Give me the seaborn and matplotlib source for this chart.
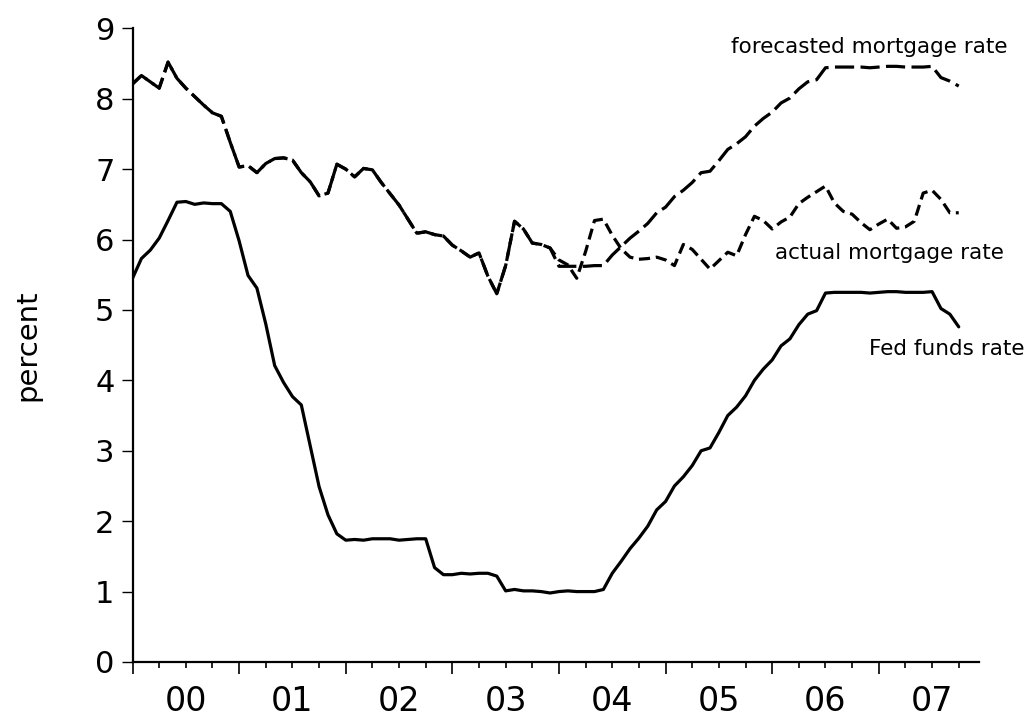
import numpy as np
import pandas as pd
import matplotlib
matplotlib.use("Agg")
import matplotlib.pyplot as plt
from matplotlib.ticker import FixedLocator, FuncFormatter
import seaborn as sns

# monthly observations 2000M1 .. 2007M10
months = pd.period_range("2000-01", "2007-10", freq="M")

fed_funds = [
    5.45, 5.73, 5.85, 6.02, 6.27, 6.53, 6.54, 6.50, 6.52, 6.51, 6.51, 6.40,
    5.98, 5.49, 5.31, 4.80, 4.21, 3.97, 3.77, 3.65, 3.07, 2.49, 2.09, 1.82,
    1.73, 1.74, 1.73, 1.75, 1.75, 1.75, 1.73, 1.74, 1.75, 1.75, 1.34, 1.24,
    1.24, 1.26, 1.25, 1.26, 1.26, 1.22, 1.01, 1.03, 1.01, 1.01, 1.00, 0.98,
    1.00, 1.01, 1.00, 1.00, 1.00, 1.03, 1.26, 1.43, 1.61, 1.76, 1.93, 2.16,
    2.28, 2.50, 2.63, 2.79, 3.00, 3.04, 3.26, 3.50, 3.62, 3.78, 4.00, 4.16,
    4.29, 4.49, 4.59, 4.79, 4.94, 4.99, 5.24, 5.25, 5.25, 5.25, 5.25, 5.24,
    5.25, 5.26, 5.26, 5.25, 5.25, 5.25, 5.26, 5.02, 4.94, 4.76,
]

actual_mortgage = [
    8.21, 8.33, 8.24, 8.15, 8.52, 8.29, 8.15, 8.03, 7.91, 7.80, 7.75, 7.38,
    7.03, 7.05, 6.95, 7.08, 7.15, 7.16, 7.13, 6.95, 6.82, 6.62, 6.66, 7.07,
    7.00, 6.89, 7.01, 6.99, 6.81, 6.65, 6.49, 6.29, 6.09, 6.11, 6.07, 6.05,
    5.92, 5.84, 5.75, 5.81, 5.48, 5.23, 5.63, 6.26, 6.15, 5.95, 5.93, 5.88,
    5.71, 5.64, 5.45, 5.83, 6.27, 6.29, 6.06, 5.87, 5.75, 5.72, 5.73, 5.75,
    5.71, 5.63, 5.93, 5.86, 5.72, 5.58, 5.70, 5.82, 5.77, 6.07, 6.33, 6.27,
    6.15, 6.25, 6.32, 6.51, 6.60, 6.68, 6.76, 6.52, 6.40, 6.36, 6.24, 6.14,
    6.22, 6.29, 6.16, 6.18, 6.26, 6.66, 6.70, 6.57, 6.38, 6.38,
]

# forecast coincides with the actual rate through 2003M12, then 2004M1 onward:
forecast_from_2004 = [
    5.62, 5.62, 5.62, 5.62, 5.63, 5.63, 5.78, 5.90, 6.02, 6.12, 6.23, 6.38,
    6.46, 6.61, 6.70, 6.81, 6.95, 6.97, 7.12, 7.28, 7.36, 7.46, 7.61, 7.72,
    7.81, 7.94, 8.01, 8.14, 8.24, 8.27, 8.44, 8.45, 8.45, 8.45, 8.45, 8.44,
    8.45, 8.46, 8.46, 8.45, 8.45, 8.45, 8.46, 8.30, 8.25, 8.18,
]
forecast_mortgage = actual_mortgage[:48] + forecast_from_2004

year_labels = ["00", "01", "02", "03", "04", "05", "06", "07"]

# fractional year for each month
t = months.year + (months.month - 1) / 12.0

df = pd.concat([
    pd.DataFrame({"t": t, "rate": forecast_mortgage, "series": "forecasted"}),
    pd.DataFrame({"t": t, "rate": actual_mortgage, "series": "actual"}),
    pd.DataFrame({"t": t, "rate": fed_funds, "series": "fed"}),
], ignore_index=True)

sns.set_style("ticks")
plt.rcParams["font.family"] = ["DejaVu Sans"]
plt.rcParams["text.color"] = "black"
plt.rcParams["axes.labelcolor"] = "black"
plt.rcParams["xtick.color"] = "black"
plt.rcParams["ytick.color"] = "black"

fig = plt.figure(figsize=(10.29, 7.19), dpi=100)
ax = fig.add_axes([0.1288, 0.0793, 0.8226, 0.8813])

sns.lineplot(
    data=df, x="t", y="rate",
    style="series",
    style_order=["forecasted", "actual", "fed"],
    dashes={"forecasted": (6, 2), "actual": (3.5, 1.8), "fed": ""},
    color="black", linewidth=2.3,
    estimator=None, sort=False, legend=False, ax=ax,
)

ax.set_xlim(2000, 2007.94)
ax.set_ylim(0, 9)

for side in ["top", "right"]:
    ax.spines[side].set_visible(False)
for side in ["left", "bottom"]:
    ax.spines[side].set_linewidth(1.6)
    ax.spines[side].set_color("black")

# year boundaries (long ticks), quarters (short ticks), labels at mid-year
first_year = int(months.year.min())
n_years = len(year_labels)
ax.set_xticks([first_year + k for k in range(n_years)])
ax.set_xticklabels([])
ax.xaxis.set_minor_locator(FixedLocator(
    [first_year + k + q for k in range(n_years) for q in (0.25, 0.5, 0.75)]))


def mid_year_label(x, pos):
    k = x - first_year - 0.5
    if abs(k - round(k)) < 1e-6 and 0 <= round(k) < n_years:
        return year_labels[int(round(k))]
    return ""


ax.xaxis.set_minor_formatter(FuncFormatter(mid_year_label))
ax.tick_params(axis="x", which="major", direction="out", length=8.6, width=1.2)
ax.tick_params(axis="x", which="minor", direction="out", length=4.3, width=1.2,
               pad=12, labelsize=24)

ax.set_yticks(range(10))
ax.tick_params(axis="y", direction="out", length=8, width=1.0, pad=5,
               labelsize=22)

ax.set_xlabel("")
ax.set_ylabel("percent", fontsize=21)
ax.yaxis.set_label_coords(-0.1073, 0.5)

ax.text(2006.91, 8.65, "forecasted mortgage rate", ha="center", va="baseline", fontsize=15.5)
ax.text(2007.10, 5.73, "actual mortgage rate", ha="center", va="baseline", fontsize=15.5)
ax.text(2007.64, 4.36, "Fed funds rate", ha="center", va="baseline", fontsize=15.5)

fig.savefig("out.png", dpi=100)
